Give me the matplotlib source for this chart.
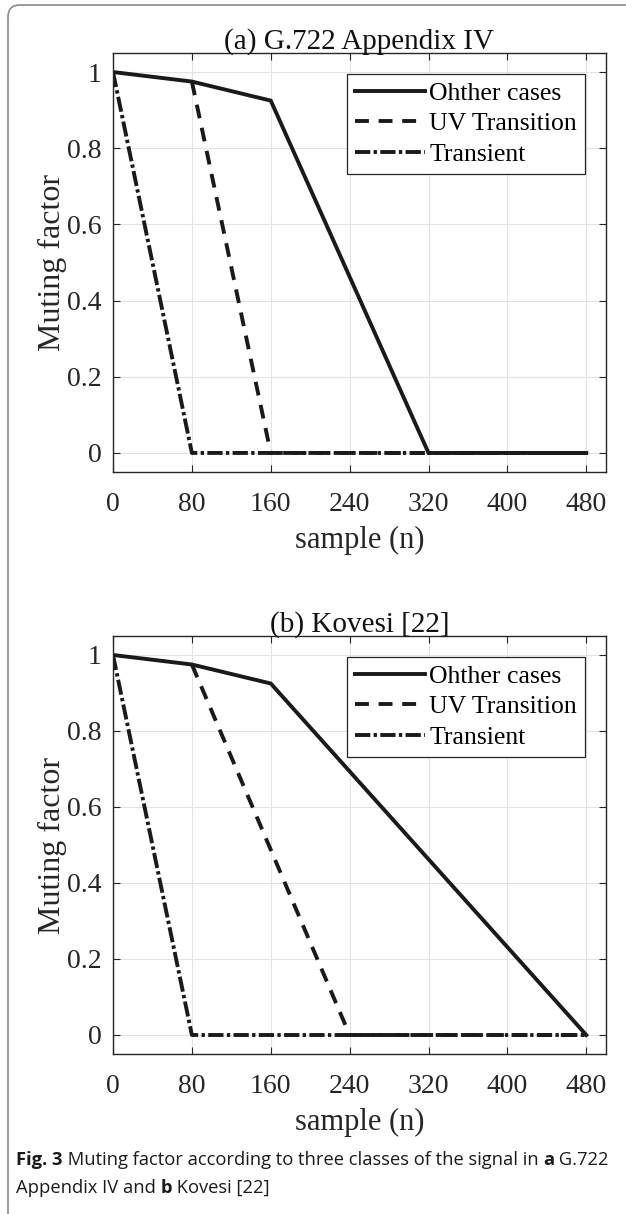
import matplotlib
matplotlib.use("Agg")
import matplotlib.pyplot as plt
from matplotlib.patches import FancyBboxPatch

# ── data ────────────────────────────────────────────────────────────────
labels = ["Ohther cases", "UV Transition", "Transient"]

# (a) G.722 Appendix IV
a_other_x = [0, 80, 160, 320, 480]
a_other_y = [1.0, 0.975, 0.925, 0.0, 0.0]
a_uv_x = [80, 160, 480]
a_uv_y = [0.975, 0.0, 0.0]
a_tr_x = [0, 80, 480]
a_tr_y = [1.0, 0.0, 0.0]

# (b) Kovesi [22]
b_other_x = [0, 80, 160, 480]
b_other_y = [1.0, 0.975, 0.925, 0.0]
b_uv_x = [80, 240, 480]
b_uv_y = [0.975, 0.0, 0.0]
b_tr_x = [0, 80, 480]
b_tr_y = [1.0, 0.0, 0.0]

x_ticks = [0, 80, 160, 240, 320, 400, 480]
y_ticks = [0, 0.2, 0.4, 0.6, 0.8, 1]
y_ticklabels = ["0", "0.2", "0.4", "0.6", "0.8", "1"]

titles = ["(a) G.722 Appendix IV", "(b) Kovesi [22]"]

# ── style ───────────────────────────────────────────────────────────────
plt.rcParams["font.family"] = ["Liberation Serif", "DejaVu Serif"]
plt.rcParams["lines.scale_dashes"] = False
AX_COL = "#262626"
LINE_COL = "#1a1a1a"
W, H = 626, 1214

fig = plt.figure(figsize=(W / 100, H / 100), dpi=100)

# rounded frame around figure (clipped on the right / bottom like the page)
frame = FancyBboxPatch((8 / 100, -20 / 100), 700 / 100, (H - 5 + 20) / 100,
                       boxstyle="round,pad=0,rounding_size=0.12",
                       transform=fig.dpi_scale_trans, fill=False,
                       edgecolor="#8a8a8a", linewidth=1.2)
fig.patches.append(frame)

# axes boxes in pixels: left, top, right, bottom
ax_px = [(113, 53, 606, 472), (113, 636, 606, 1054)]

series = [
    [(a_other_x, a_other_y), (a_uv_x, a_uv_y), (a_tr_x, a_tr_y)],
    [(b_other_x, b_other_y), (b_uv_x, b_uv_y), (b_tr_x, b_tr_y)],
]
styles = ["-", (0, (10, 7)), (0, (11, 2.4, 2.4, 2.4))]

for (l, t, r, b), title, ser in zip(ax_px, titles, series):
    ax = fig.add_axes([l / W, 1 - b / H, (r - l) / W, (b - t) / H])
    for (xs, ys), ls, lab in zip(ser, styles, labels):
        ax.plot(xs, ys, linestyle=ls, color=LINE_COL, linewidth=2.8, label=lab,
                solid_joinstyle="miter", dash_capstyle="butt")
    ax.set_xlim(0, 500)
    ax.set_ylim(-0.05, 1.05)
    ax.set_xticks(x_ticks)
    ax.set_yticks(y_ticks)
    ax.set_yticklabels(y_ticklabels)
    ax.grid(True, color="#e3e3e3", linewidth=0.8)
    ax.set_axisbelow(True)
    ax.tick_params(direction="in", length=5, width=0.8, colors=AX_COL,
                   labelsize=20, top=True, right=True)
    ax.tick_params(axis="x", pad=14.5)
    ax.tick_params(axis="y", pad=8)
    for sp in ax.spines.values():
        sp.set_color(AX_COL)
        sp.set_linewidth(1.0)
    ax.set_title(title, fontsize=21, color="#111111", pad=3)
    ax.set_xlabel("sample (n)", fontsize=22, color=AX_COL, labelpad=6)
    ax.set_ylabel("Muting factor", fontsize=23, color=AX_COL, labelpad=0)
    leg = ax.legend(loc="upper right", bbox_to_anchor=(0.957, 0.95),
                    fontsize=18.5, handlelength=2.75, handletextpad=0.15,
                    borderpad=0.3, labelspacing=0.3, borderaxespad=0,
                    fancybox=False, framealpha=1)
    leg.get_frame().set_edgecolor(AX_COL)
    leg.get_frame().set_linewidth(0.9)

# ── caption with bold runs ─────────────────────────────────────────────
cap_font = ["Open Sans", "DejaVu Sans"]
cap_size = 13.2
caption_lines = [
    [("Fig. 3", "bold"), (" Muting factor according to three classes of the signal in ", "normal"),
     ("a", "bold"), (" G.722", "normal")],
    [("Appendix IV and ", "normal"), ("b", "bold"), (" Kovesi [22]", "normal")],
]
caption_y = [1160, 1188]

renderer = fig.canvas.get_renderer()
for runs, ypx in zip(caption_lines, caption_y):
    xpx = 16
    for txt, weight in runs:
        t = fig.text(xpx / W, 1 - ypx / H, txt, family=cap_font, fontsize=cap_size,
                     fontweight=weight, color="#1a1a1a", va="center", ha="left")
        xpx += t.get_window_extent(renderer).width

fig.savefig("out.png", dpi=100)
